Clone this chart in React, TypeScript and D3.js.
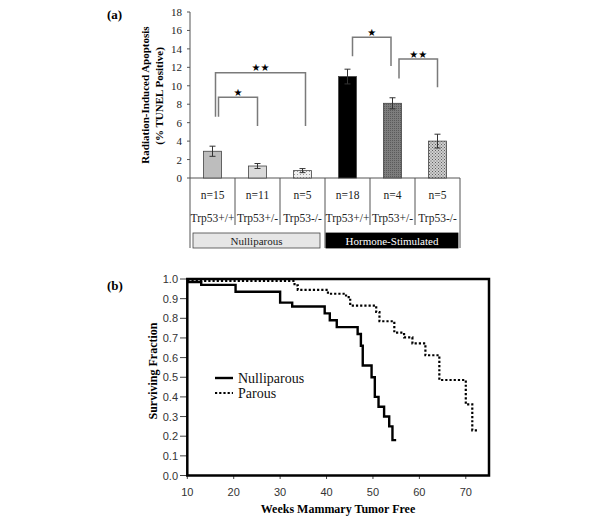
import React from "react";
import * as d3 from "d3";

// ---------- Panel (a) data ----------
const genotypes = ["Trp53+/+", "Trp53+/-", "Trp53-/-", "Trp53+/+", "Trp53+/-", "Trp53-/-"];
const nValues = [15, 11, 5, 18, 4, 5];
const apoptosisMeans = [2.9, 1.3, 0.8, 11.0, 8.1, 4.0];
const apoptosisErrors = [0.55, 0.27, 0.22, 0.8, 0.6, 0.75];
const groupLabels = ["Nulliparous", "Hormone-Stimulated"];
const yTicksA = [0, 2, 4, 6, 8, 10, 12, 14, 16, 18];
// significance brackets: from/to category, top value, left & right leg bottoms
const bracketFrom = [0, 0, 3, 4];
const bracketTo = [1, 2, 4, 5];
const bracketTop = [8.75, 11.4, 15.25, 12.9];
const bracketLeftBottom = [6.65, 6.65, 13.2, 10.8];
const bracketRightBottom = [5.65, 5.65, 12.15, 9.85];
const bracketLabels = ["★", "★★", "★", "★★"];

// ---------- Panel (b) data ----------
const nulliTimes = [10, 13, 20.4, 30, 32.6, 39.6, 40.7, 42.2, 46.7, 47.4, 47.8, 49.7, 50.4, 51.2, 52.4, 53.5, 54.2, 55];
const nulliSurv = [0.985, 0.97, 0.935, 0.88, 0.86, 0.825, 0.79, 0.755, 0.72, 0.66, 0.56, 0.5, 0.4, 0.35, 0.3, 0.25, 0.18, 0.18];
const parousTimes = [10, 33.1, 33.8, 40.3, 44.2, 45.1, 50.7, 51.4, 54.6, 56.7, 58.5, 61.3, 64.3, 70.0, 71.4, 72.6];
const parousSurv = [0.99, 0.968, 0.945, 0.925, 0.908, 0.865, 0.832, 0.785, 0.727, 0.703, 0.672, 0.612, 0.486, 0.362, 0.23, 0.23];
const xTicksB = [10, 20, 30, 40, 50, 60, 70];
const yTicksB = [0, 0.1, 0.2, 0.3, 0.4, 0.5, 0.6, 0.7, 0.8, 0.9, 1.0];
const seriesNames = ["Nulliparous", "Parous"];

const serif = "'Liberation Serif', 'Times New Roman', serif";
const sans = "'Liberation Sans', Arial, sans-serif";

export default function App() {
  // Panel (a) scales
  const xA = d3.scaleBand<number>().domain(d3.range(6)).range([190, 460]).paddingInner(0).paddingOuter(0);
  const yA = d3.scaleLinear().domain([0, 18]).range([178, 12]);
  const barW = 18;
  const cx = (i: number) => (xA(i) as number) + xA.bandwidth() / 2;
  const fills = ["#bdbdbd", "#dadada", "url(#dots)", "#000000", "url(#darkgrid)", "url(#cross)"];

  // Panel (b) scales
  const xB = d3.scaleLinear().domain([10, 75]).range([187.3, 489]);
  const yB = d3.scaleLinear().domain([0, 1]).range([475.5, 279]);
  const step = d3
    .line<[number, number]>()
    .x((d) => xB(d[0]))
    .y((d) => yB(d[1]))
    .curve(d3.curveStepAfter);
  const nulliPts = nulliTimes.map((t, i) => [t, nulliSurv[i]] as [number, number]);
  const parousPts = parousTimes.map((t, i) => [t, parousSurv[i]] as [number, number]);

  const legOffL = [6, 3, 5, 6.5];
  const legOffR = [0, 3, -1.5, 0];

  return (
    <svg width={600} height={525} style={{ position: "absolute", left: 0, top: 0, background: "#fff" }}>
      <defs>
        <pattern id="dots" width={3} height={3} patternUnits="userSpaceOnUse">
          <rect width={3} height={3} fill="#f0f0f0" />
          <rect x={0} y={0} width={1} height={1} fill="#999" />
        </pattern>
        <pattern id="darkgrid" width={2} height={2} patternUnits="userSpaceOnUse">
          <rect width={2} height={2} fill="#7d7d7d" />
          <rect x={0} y={0} width={1} height={1} fill="#5a5a5a" />
        </pattern>
        <pattern id="cross" width={3} height={3} patternUnits="userSpaceOnUse">
          <rect width={3} height={3} fill="#cfcfcf" />
          <rect x={0} y={0} width={1} height={1} fill="#606060" />
          <rect x={1.5} y={1.5} width={1} height={1} fill="#606060" />
        </pattern>
      </defs>

      {/* ================= Panel (a) ================= */}
      <text x={107} y={19} fontFamily={serif} fontWeight="bold" fontSize={13}>(a)</text>
      <g transform="translate(149,95) rotate(-90)">
        <text textAnchor="middle" fontFamily={serif} fontWeight="bold" fontSize={11}>Radiation-Induced Apoptosis</text>
      </g>
      <g transform="translate(163,96) rotate(-90)">
        <text textAnchor="middle" fontFamily={serif} fontWeight="bold" fontSize={11}>(% TUNEL Positive)</text>
      </g>
      {/* y axis */}
      <line x1={190} x2={190} y1={yA(18)} y2={yA(0)} stroke="#555" strokeWidth={1} />
      {yTicksA.map((t) => (
        <g key={t}>
          <line x1={187} x2={190} y1={yA(t)} y2={yA(t)} stroke="#555" />
          <text x={182} y={yA(t) + 4} textAnchor="end" fontFamily={serif} fontSize={11} fill="#222">{t}</text>
        </g>
      ))}
      <line x1={190} x2={460} y1={yA(0)} y2={yA(0)} stroke="#555" />
      {/* bars */}
      {apoptosisMeans.map((v, i) => (
        <g key={i}>
          <rect x={cx(i) - barW / 2} y={yA(v)} width={barW} height={yA(0) - yA(v)} fill={fills[i]} stroke="#444" strokeWidth={0.8} />
          <line x1={cx(i)} x2={cx(i)} y1={yA(v + apoptosisErrors[i])} y2={yA(v - apoptosisErrors[i])} stroke="#333" strokeWidth={1} />
          <line x1={cx(i) - 3} x2={cx(i) + 3} y1={yA(v + apoptosisErrors[i])} y2={yA(v + apoptosisErrors[i])} stroke="#333" />
          <line x1={cx(i) - 3} x2={cx(i) + 3} y1={yA(v - apoptosisErrors[i])} y2={yA(v - apoptosisErrors[i])} stroke="#333" />
        </g>
      ))}
      {/* brackets */}
      {bracketFrom.map((f, k) => {
        const x1 = cx(f) + legOffL[k];
        const x2 = cx(bracketTo[k]) + legOffR[k];
        return (
          <g key={k}>
            <path
              d={`M${x1},${yA(bracketLeftBottom[k])}V${yA(bracketTop[k])}H${x2}V${yA(bracketRightBottom[k])}`}
              fill="none"
              stroke="#7a7a7a"
              strokeWidth={1.5}
            />
            <text x={(x1 + x2) / 2} y={yA(bracketTop[k]) - 1.5} textAnchor="middle" fontFamily="'DejaVu Sans', sans-serif" fontSize={10} fill="#000">
              {bracketLabels[k]}
            </text>
          </g>
        );
      })}
      {/* category table */}
      {[1, 2, 4, 5].map((i) => (
        <line key={i} x1={xA(i) as number} x2={xA(i) as number} y1={178} y2={225} stroke="#555" />
      ))}
      {[0, 3].map((i) => (
        <line key={i} x1={xA(i) as number} x2={xA(i) as number} y1={178} y2={248} stroke="#555" />
      ))}
      <line x1={460} x2={460} y1={178} y2={248} stroke="#555" />
      {nValues.map((n, i) => (
        <text key={"n" + i} x={cx(i)} y={199} textAnchor="middle" fontFamily={serif} fontSize={11.5} fill="#222">n={n}</text>
      ))}
      {genotypes.map((g, i) => (
        <text key={"g" + i} x={cx(i)} y={222} textAnchor="middle" fontFamily={serif} fontSize={11.5} fill="#222">{g}</text>
      ))}
      <rect x={193} y={233} width={127} height={15} fill="#e6e6e6" stroke="#444" strokeWidth={0.8} />
      <text x={256.5} y={244.5} textAnchor="middle" fontFamily={serif} fontSize={11} fill="#222">{groupLabels[0]}</text>
      <rect x={326} y={233} width={132} height={15} fill="#000" stroke="#000" strokeWidth={0.8} />
      <text x={392} y={244.5} textAnchor="middle" fontFamily={serif} fontSize={11} fill="#fff">{groupLabels[1]}</text>

      {/* ================= Panel (b) ================= */}
      <text x={107} y={290} fontFamily={serif} fontWeight="bold" fontSize={13}>(b)</text>
      <g transform="translate(157,371) rotate(-90)">
        <text textAnchor="middle" fontFamily={serif} fontWeight="bold" fontSize={12}>Surviving Fraction</text>
      </g>
      <text x={338} y={513} textAnchor="middle" fontFamily={serif} fontWeight="bold" fontSize={12}>Weeks Mammary Tumor Free</text>
      {yTicksB.map((t) => (
        <g key={t}>
          <line x1={180} x2={187} y1={yB(t)} y2={yB(t)} stroke="#444" />
          <text x={178} y={yB(t) + 4} textAnchor="end" fontFamily={sans} fontSize={11} fill="#333">{t.toFixed(1)}</text>
        </g>
      ))}
      {xTicksB.map((t) => (
        <g key={t}>
          <line x1={xB(t)} x2={xB(t)} y1={475.5} y2={479} stroke="#444" />
          <text x={xB(t)} y={496} textAnchor="middle" fontFamily={sans} fontSize={11} fill="#333">{t}</text>
        </g>
      ))}
      <path d={step(parousPts) || ""} fill="none" stroke="#000" strokeWidth={2.2} strokeDasharray="2.2,2" />
      <path d={step(nulliPts) || ""} fill="none" stroke="#000" strokeWidth={2.4} />
      <rect x={187.3} y={279} width={489 - 187.3} height={475.5 - 279} fill="none" stroke="#000" strokeWidth={2.5} />
      {/* legend */}
      <line x1={215} x2={233} y1={378} y2={378} stroke="#000" strokeWidth={2.4} />
      <text x={238} y={383} fontFamily={serif} fontSize={14} fill="#111">{seriesNames[0]}</text>
      <line x1={215} x2={233} y1={393} y2={393} stroke="#000" strokeWidth={2.2} strokeDasharray="2.2,2" />
      <text x={238} y={398} fontFamily={serif} fontSize={14} fill="#111">{seriesNames[1]}</text>
    </svg>
  );
}
